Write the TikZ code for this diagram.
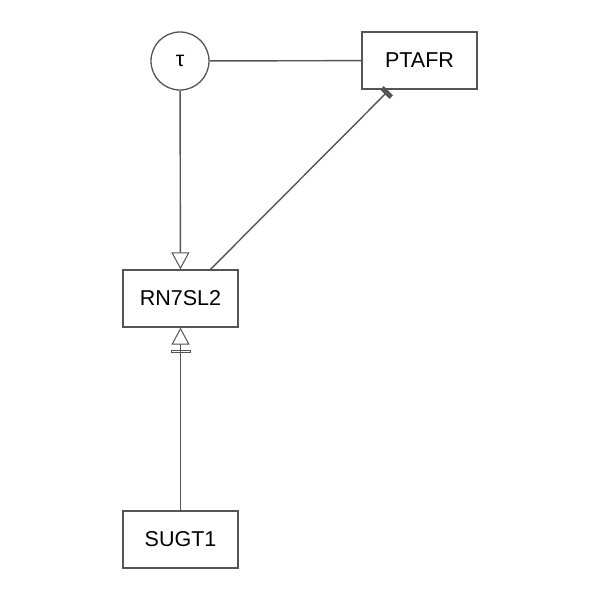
\documentclass[tikz,border=0pt]{standalone}
\usepackage{fontspec}
\setmainfont{Liberation Sans}
\usetikzlibrary{arrows.meta,calc}
\definecolor{edge}{HTML}{555555}
\begin{document}
\begin{tikzpicture}[x=1pt,y=-1pt,
  gene/.style={draw=edge,line width=1.3pt,minimum width=115pt,minimum height=57pt,inner sep=0pt,font=\fontsize{21.5}{25}\selectfont,text=black},
  drug/.style={draw=edge,line width=1.3pt,circle,minimum size=58pt,inner sep=0pt,font=\fontsize{21.5}{25}\selectfont},
  link/.style={draw=edge,line width=1.4pt}]
\useasboundingbox (0,0) rectangle (600,600);
\node[drug] (tau) at (180,61) {τ};
\node[gene] (ptafr) at (419.5,60.5) {PTAFR};
\node[gene] (rn) at (180.5,298.5) {RN7SL2};
\node[gene] (sugt) at (180.5,539.5) {SUGT1};
\draw[link] (tau) -- (ptafr);
\draw[link,-{Triangle[open,width=18pt,length=17pt,line width=1pt]}] (tau) -- (rn);
\draw[link,shorten >=1.5pt,-{Rectangle[length=5pt,width=13pt]}] ($(rn.north)+(30,0)$) -- ($(ptafr.south)+(-30,0)$);
\draw[link,-{Rectangle[open,length=3.5pt,width=20pt,sep=5pt,line width=1pt] Triangle[open,width=18pt,length=17pt,line width=1pt]}] (sugt) -- (rn);
\end{tikzpicture}
\end{document}
